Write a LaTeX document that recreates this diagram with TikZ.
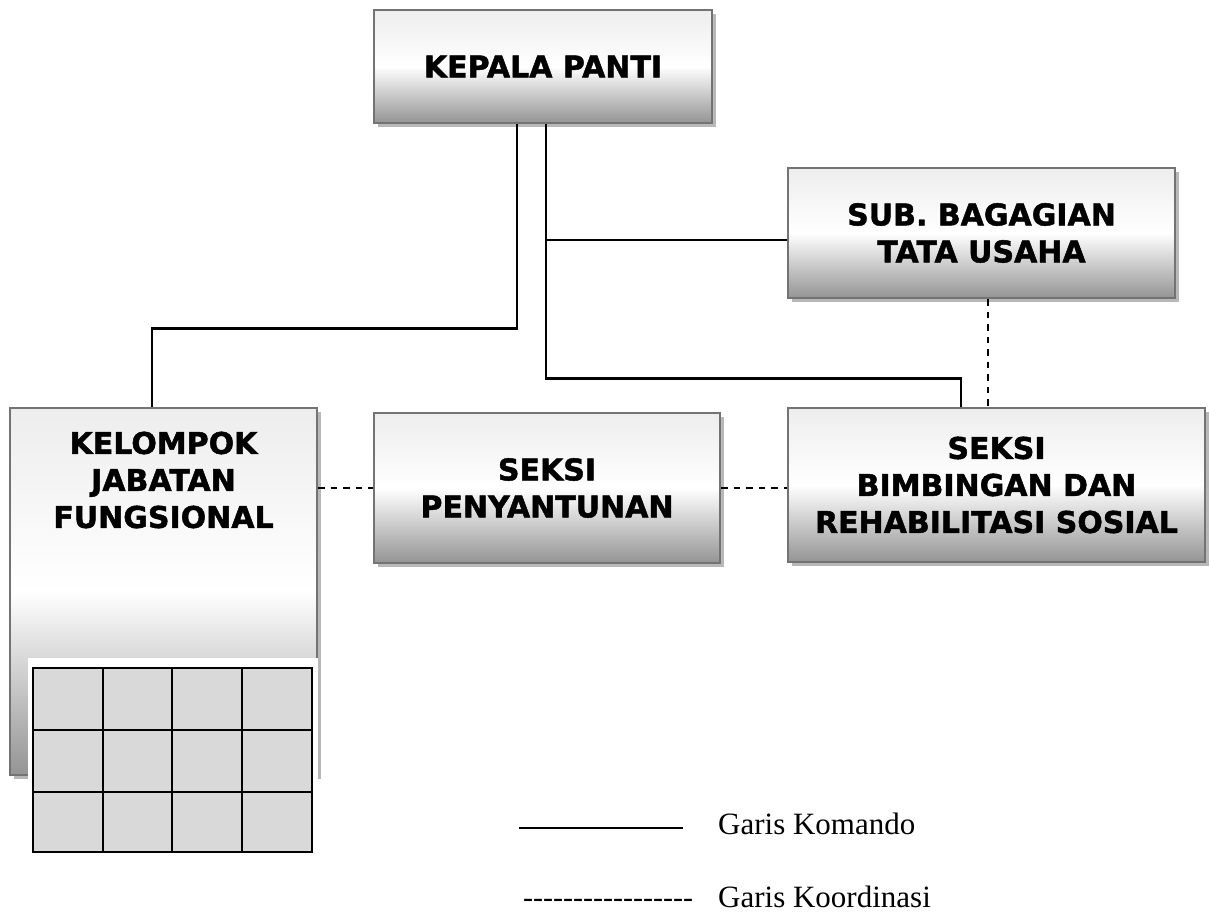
\documentclass[tikz,border=0pt]{standalone}
\usepackage{fontspec}
\setmainfont{Liberation Serif}
\newfontfamily\boxfont{DejaVu Sans}[BoldFeatures={FakeBold=1.5}]
\usetikzlibrary{shadows}
\tikzset{
  orgbox/.style={draw=black!55, line width=2.4pt,
    top color=white!93!black, bottom color=black!42, middle color=white,
    drop shadow={shadow xshift=4pt, shadow yshift=-4pt, fill=black!35, opacity=0.8},
    inner sep=0pt},
  boxtext/.style={font=\boxfont\bfseries\fontsize{30}{37}\selectfont, align=center, inner sep=0pt},
  cmd/.style={line width=2.6pt, black},
  coord/.style={line width=2pt, black, dash pattern=on 6.5pt off 6pt},
  legtext/.style={font=\fontsize{31}{36}\selectfont, inner sep=0pt, anchor=base west}
}
\begin{document}
\begin{tikzpicture}[x=1pt,y=-1pt]
\useasboundingbox (0,0) rectangle (1209,912);

% boxes
\node[orgbox, boxtext, minimum width=338pt, minimum height=113pt] (kp) at (543,66.5) {KEPALA PANTI};
\node[orgbox, boxtext, minimum width=387pt, minimum height=130pt] (sub) at (981.5,233) {SUB. BAGAGIAN\\TATA USAHA};
\node[orgbox, boxtext, minimum width=417pt, minimum height=154pt] (srs) at (996.5,485) {SEKSI\\BIMBINGAN DAN\\REHABILITASI SOSIAL};
\node[orgbox, boxtext, minimum width=346pt, minimum height=150pt] (sy) at (547,488) {SEKSI\\PENYANTUNAN};
\node[orgbox, minimum width=307pt, minimum height=367pt] (kjf) at (163.5,591.5) {};
\node[boxtext] (kjft) at (163.5,480) {KELOMPOK\\JABATAN\\FUNGSIONAL};

% table over the box
\fill[white] (28,658) rectangle (318,862);
\fill[black!15] (33,668) rectangle (312,852);
\foreach \x in {33,103,172,242,312} \draw[line width=2.8pt] (\x,668) -- (\x,852);
\foreach \y in {668,730,792,852} \draw[line width=2.8pt, line cap=rect] (33,\y) -- (312,\y);

% command lines
\coordinate (kpl) at ([xshift=-26pt]kp.south);
\coordinate (kpr) at ([xshift=3pt]kp.south);
\coordinate (subin) at ([yshift=-7pt]sub.west);
\draw[cmd] (kpl) -- ++(0,204) -| ([xshift=-11.5pt]kjf.north);
\draw[cmd] (kpr) -- ++(0,254) -| ([xshift=-35.5pt]srs.north);
\draw[cmd] (kpr |- subin) -- (subin);

% coordination lines
\coordinate (subd) at ([xshift=6.5pt]sub.south);
\draw[coord] (subd) -- (subd |- srs.north);
\draw[coord] (kjf.east |- sy.west) -- (sy.west);
\draw[coord] (sy.east) -- (sy.east -| srs.west);

% legend
\coordinate (l1a) at (519,828);
\coordinate (l1b) at (683,828);
\draw[cmd] (l1a) -- (l1b);
\node[legtext] (l1t) at (718,834) {Garis Komando};
\node[legtext, font=\fontsize{30}{36}\selectfont] (l2d) at (523,907) {-{}-{}-{}-{}-{}-{}-{}-{}-{}-{}-{}-{}-{}-{}-{}-{}-};
\node[legtext] (l2t) at (718,907) {Garis Koordinasi};
\end{tikzpicture}
\end{document}
